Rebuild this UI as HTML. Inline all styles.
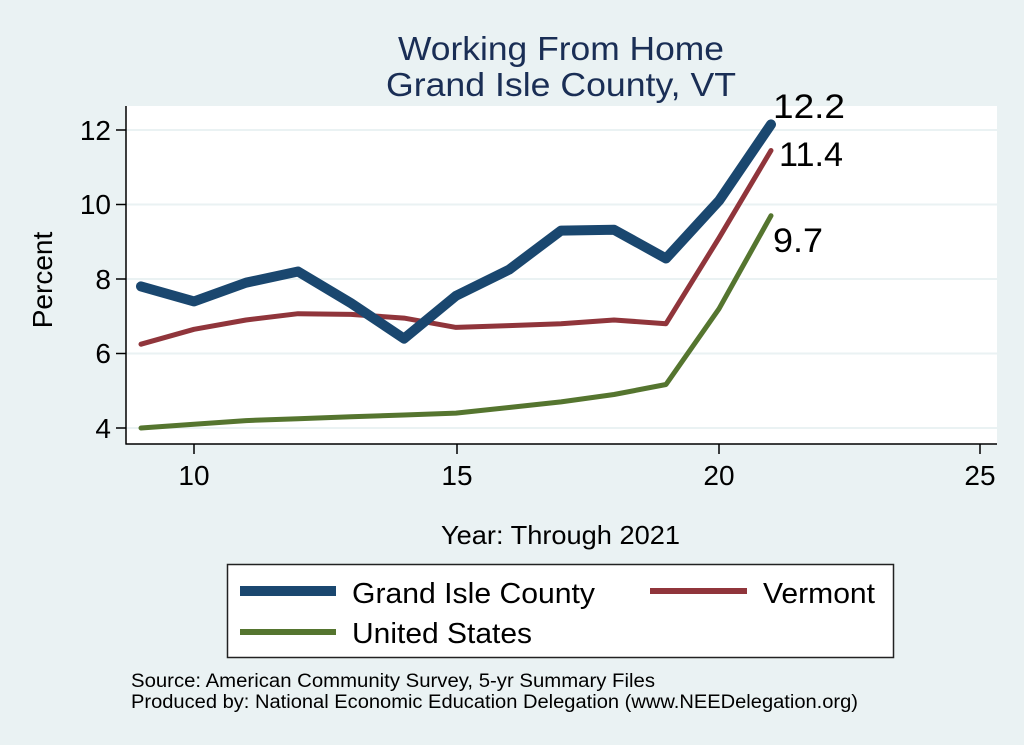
<!DOCTYPE html>
<html><head><meta charset="utf-8"><style>
html,body{margin:0;padding:0;background:#eaf2f3;}
svg{display:block;font-family:"Liberation Sans",sans-serif;}
</style></head><body>
<svg width="1024" height="745" viewBox="0 0 1024 745" xmlns="http://www.w3.org/2000/svg">
<rect width="1024" height="745" fill="#eaf2f3"/>
<text x="398" y="60" font-size="33" fill="#1a2e55" textLength="326" lengthAdjust="spacingAndGlyphs">Working From Home</text>
<text x="386" y="96" font-size="33" fill="#1a2e55" textLength="350" lengthAdjust="spacingAndGlyphs">Grand Isle County, VT</text>
<rect x="126" y="106" width="871" height="338" fill="#fff"/>
<g stroke="#eaf2f3" stroke-width="2">
<line x1="126" y1="130" x2="997" y2="130"/><line x1="126" y1="204.5" x2="997" y2="204.5"/>
<line x1="126" y1="279" x2="997" y2="279"/><line x1="126" y1="353.5" x2="997" y2="353.5"/>
<line x1="126" y1="428" x2="997" y2="428"/></g>
<g stroke="#000" stroke-width="1.5">
<line x1="126" y1="106" x2="126" y2="444.5"/><line x1="125.5" y1="444" x2="997" y2="444"/>
<line x1="116" y1="130" x2="126" y2="130"/><line x1="116" y1="204.5" x2="126" y2="204.5"/>
<line x1="116" y1="279" x2="126" y2="279"/><line x1="116" y1="353.5" x2="126" y2="353.5"/>
<line x1="116" y1="428" x2="126" y2="428"/>
<line x1="194" y1="444" x2="194" y2="454"/><line x1="457" y1="444" x2="457" y2="454"/>
<line x1="719" y1="444" x2="719" y2="454"/><line x1="980" y1="444" x2="980" y2="454"/></g>
<g font-size="28" text-anchor="end" fill="#000">
<text x="111" y="140">12</text><text x="111" y="214">10</text><text x="111" y="289">8</text>
<text x="111" y="363">6</text><text x="111" y="438">4</text></g>
<g font-size="28" text-anchor="middle" fill="#000">
<text x="194" y="485">10</text><text x="457" y="485">15</text><text x="719" y="485">20</text><text x="980" y="485">25</text></g>
<text x="0" y="0" font-size="28" text-anchor="middle" transform="translate(52 280) rotate(-90)">Percent</text>
<text x="441" y="544" font-size="26" textLength="239" lengthAdjust="spacingAndGlyphs">Year: Through 2021</text>
<g fill="none" stroke-linejoin="round" stroke-linecap="round">
<polyline stroke="#55752f" stroke-width="5" points="141,428 194,424.3 246,420.6 298,418.7 351,416.8 404,415 456,413.1 509,407.5 561,401.9 614,394.5 666,384.5 719,308.8 771,215.7"/>
<polyline stroke="#90353b" stroke-width="5" points="141,344.2 194,329.3 246,320 298,313.7 351,314.4 404,318.1 456,327.4 509,325.6 561,323.7 614,320 666,323.7 719,238 771,150.5"/>
<polyline stroke="#1a476f" stroke-width="10" points="141,286.4 194,301.4 246,282.7 298,271.5 351,303.2 404,338.6 456,295.8 509,269.7 561,230.6 614,229.7 666,258.5 719,200.8 771,124.4"/>
</g>
<g font-size="34" fill="#000">
<text x="773" y="118" textLength="72" lengthAdjust="spacingAndGlyphs">12.2</text>
<text x="779" y="166" textLength="64" lengthAdjust="spacingAndGlyphs">11.4</text>
<text x="773" y="252" textLength="50" lengthAdjust="spacingAndGlyphs">9.7</text></g>
<rect x="227.5" y="564.5" width="666" height="93" fill="#fff" stroke="#222" stroke-width="1.5"/>
<rect x="240" y="586" width="96" height="10" fill="#1a476f"/>
<rect x="650" y="588" width="97" height="6" fill="#90353b"/>
<rect x="240" y="629" width="96" height="6" fill="#55752f"/>
<g font-size="29" fill="#000">
<text x="352" y="603" textLength="243" lengthAdjust="spacingAndGlyphs">Grand Isle County</text>
<text x="763" y="603" textLength="112" lengthAdjust="spacingAndGlyphs">Vermont</text>
<text x="352" y="643" textLength="180" lengthAdjust="spacingAndGlyphs">United States</text></g>
<g font-size="19" fill="#000">
<text x="131" y="687" textLength="524" lengthAdjust="spacingAndGlyphs">Source: American Community Survey, 5-yr Summary Files</text>
<text x="131" y="708" textLength="727" lengthAdjust="spacingAndGlyphs">Produced by: National Economic Education Delegation (www.NEEDelegation.org)</text></g>
</svg>
</body></html>
